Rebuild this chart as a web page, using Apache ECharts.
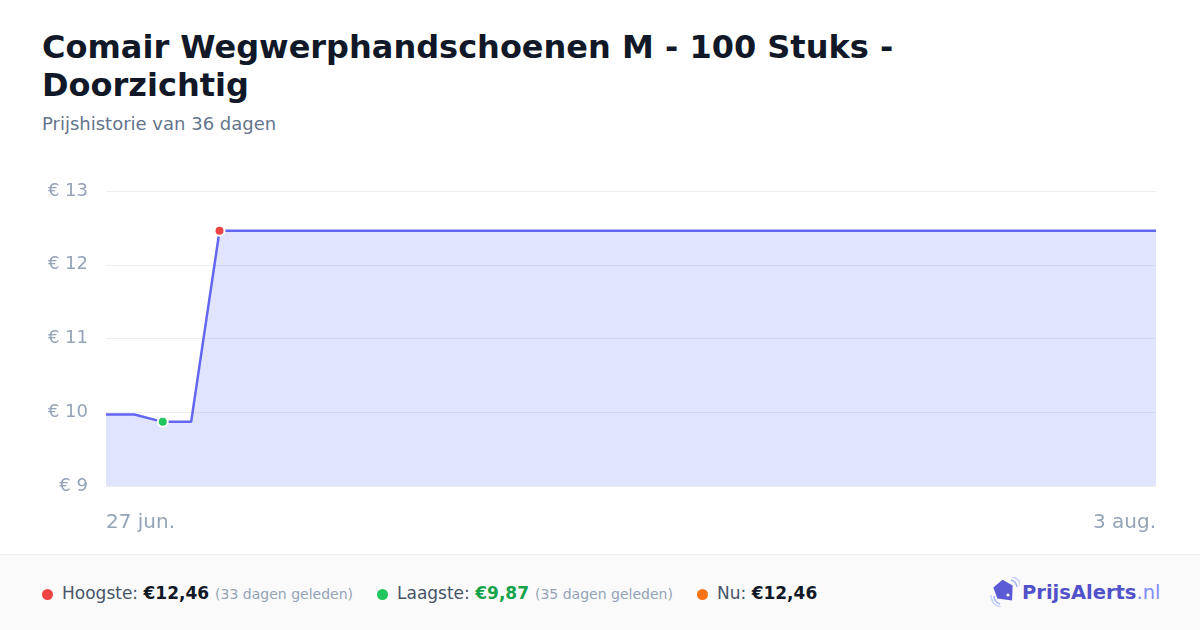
<!DOCTYPE html>
<html>
<head>
<meta charset="utf-8">
<script src="https://cdn.jsdelivr.net/npm/echarts@6/dist/echarts.min.js"></script>
<style>
  html, body { margin: 0; padding: 0; width: 1200px; height: 630px; overflow: hidden; background: #ffffff; font-family: "DejaVu Sans", sans-serif; }
  #title { position: absolute; left: 42px; top: 28px; max-width: 920px; font-size: 32px; font-weight: bold; line-height: 38px; color: #111827; }
  #subtitle { position: absolute; left: 42px; top: 113px; font-size: 18px; color: #64748b; }
  #chart { position: absolute; left: 0; top: 0; width: 1200px; height: 554px; }
  #footer { position: absolute; left: 0; top: 554px; width: 1200px; height: 76px; background: #fafafa; border-top: 1px solid #eeeeee; box-sizing: border-box; }
  .item { position: absolute; top: 28px; font-size: 17px; color: #475569; white-space: nowrap; line-height: 20px; }
  .dot { display: inline-block; width: 11px; height: 11px; border-radius: 50%; margin-right: 9px; vertical-align: -1px; }
  .val { font-weight: bold; color: #111827; }
  .ago { font-size: 14px; color: #94a3b8; margin-left: 6px; }
  #logo { position: absolute; left: 990px; top: 22px; height: 32px; white-space: nowrap; }
  #logo span.b { font-size: 19.5px; font-weight: bold; color: #5151c9; }
  #logo span.n { font-size: 19.5px; color: #818cf8; }
</style>
</head>
<body>
<div id="title">Comair Wegwerphandschoenen M - 100 Stuks - Doorzichtig</div>
<div id="subtitle">Prijshistorie van 36 dagen</div>
<div id="chart"></div>
<div id="footer">
  <div class="item" style="left:42px"><span class="dot" style="background:#ef4444"></span>Hoogste: <span class="val">€12,46</span><span class="ago">(33 dagen geleden)</span></div>
  <div class="item" style="left:377px"><span class="dot" style="background:#22c55e"></span>Laagste: <span class="val" style="color:#16a34a">€9,87</span><span class="ago">(35 dagen geleden)</span></div>
  <div class="item" style="left:697px"><span class="dot" style="background:#f97316"></span>Nu: <span class="val">€12,46</span></div>
  <div id="logo">
    <svg width="30" height="30" viewBox="0 0 30 30" style="vertical-align:-8px;margin-right:2px">
      <path d="M4 19 Q4 25 10 27" stroke="#a5b4fc" stroke-width="1.5" fill="none"/>
      <path d="M1 18 Q1 28 11 30" stroke="#c7d2fe" stroke-width="1.5" fill="none"/>
      <path d="M21 3 Q26 4 27 10" stroke="#a5b4fc" stroke-width="1.5" fill="none"/>
      <path d="M22 0 Q30 1 30 9" stroke="#c7d2fe" stroke-width="1.5" fill="none"/>
      <path d="M9 4 L21 4 L25 15 L15 26 L5 15 Z" fill="#5b5bd6" transform="rotate(-40 15 15)"/>
      <circle cx="18" cy="18" r="1.6" fill="#ffffff"/>
    </svg><span class="b">PrijsAlerts</span><span class="n">.nl</span>
  </div>
</div>
<script>
// Data
const dates = ["27 jun.","28 jun.","29 jun.","30 jun.","1 jul.","2 jul.","3 jul.","4 jul.","5 jul.","6 jul.",
  "7 jul.","8 jul.","9 jul.","10 jul.","11 jul.","12 jul.","13 jul.","14 jul.","15 jul.","16 jul.",
  "17 jul.","18 jul.","19 jul.","20 jul.","21 jul.","22 jul.","23 jul.","24 jul.","25 jul.","26 jul.",
  "27 jul.","28 jul.","29 jul.","30 jul.","31 jul.","1 aug.","2 aug.","3 aug."];
const prices = [9.97, 9.97, 9.87, 9.87, 12.46, 12.46, 12.46, 12.46, 12.46, 12.46,
  12.46, 12.46, 12.46, 12.46, 12.46, 12.46, 12.46, 12.46, 12.46, 12.46,
  12.46, 12.46, 12.46, 12.46, 12.46, 12.46, 12.46, 12.46, 12.46, 12.46,
  12.46, 12.46, 12.46, 12.46, 12.46, 12.46, 12.46, 12.46];
const yTicks = [9, 10, 11, 12, 13];

const maxIdx = prices.indexOf(Math.max(...prices));
const minIdx = prices.indexOf(Math.min(...prices));

const seriesData = prices.map((v, i) => {
  if (i === maxIdx) return { value: v, symbol: 'circle', symbolSize: 10, itemStyle: { color: '#ef4444', borderColor: '#ffffff', borderWidth: 2 } };
  if (i === minIdx) return { value: v, symbol: 'circle', symbolSize: 10, itemStyle: { color: '#22c55e', borderColor: '#ffffff', borderWidth: 2 } };
  return { value: v, symbol: 'none' };
});

const chart = echarts.init(document.getElementById('chart'), null, { renderer: 'canvas' });
chart.setOption({
  animation: false,
  grid: { left: 106, right: 44, top: 191, bottom: 68 },
  xAxis: {
    type: 'category',
    data: dates,
    boundaryGap: false,
    axisLine: { show: false },
    axisTick: { show: false },
    splitLine: { show: false },
    axisLabel: {
      interval: 0,
      margin: 27,
      fontSize: 20,
      color: '#94a3b8',
      fontFamily: 'DejaVu Sans',
      alignMinLabel: 'left',
      alignMaxLabel: 'right',
      formatter: (v, i) => (i === 0 || i === dates.length - 1) ? v : ''
    }
  },
  yAxis: {
    type: 'value',
    min: yTicks[0],
    max: yTicks[yTicks.length - 1],
    interval: 1,
    axisLine: { show: false },
    axisTick: { show: false },
    splitLine: { lineStyle: { color: '#eeeeee', width: 1 } },
    axisLabel: {
      margin: 18,
      fontSize: 18,
      color: '#94a3b8',
      fontFamily: 'DejaVu Sans',
      formatter: v => '€ ' + v
    }
  },
  series: [{
    type: 'line',
    data: seriesData,
    showSymbol: true,
    symbol: 'none',
    lineStyle: { color: '#6366f1', width: 2.5 },
    areaStyle: { color: 'rgba(100,120,245,0.2)', opacity: 1 },
    itemStyle: { color: '#6366f1' },
    z: 3
  }]
});
</script>
</body>
</html>
